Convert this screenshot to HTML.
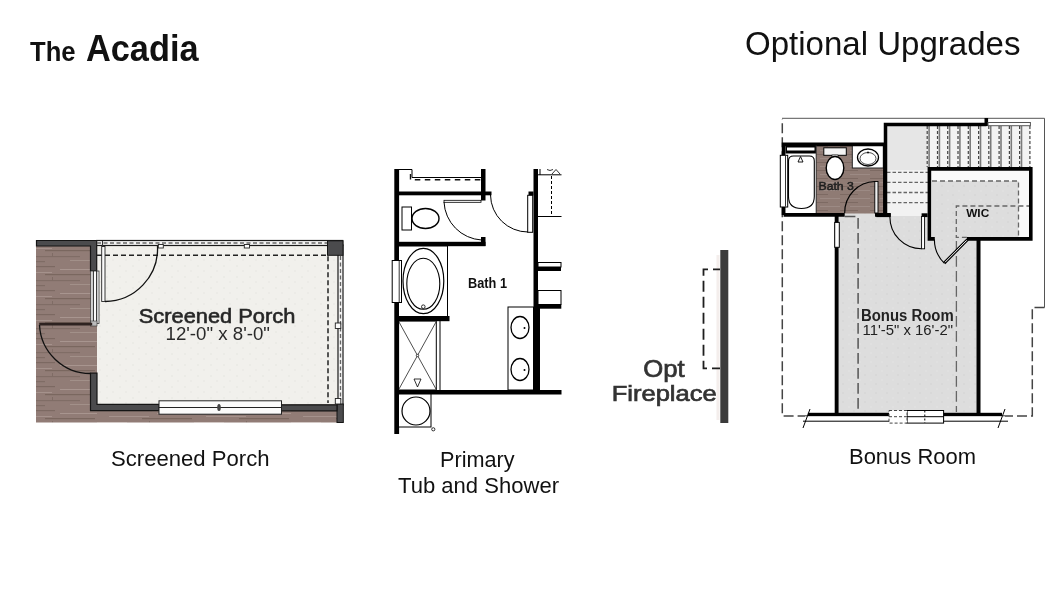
<!DOCTYPE html>
<html><head><meta charset="utf-8">
<style>
html,body{margin:0;padding:0;background:#fff;width:1060px;height:600px;overflow:hidden}
svg{display:block;font-family:"Liberation Sans",sans-serif;will-change:transform}
</style></head><body>
<svg width="1060" height="600" viewBox="0 0 1060 600">
<defs>
  <pattern id="wood" width="97" height="24" patternUnits="userSpaceOnUse">
    <rect width="97" height="24" fill="#917c76"/>
    <rect x="0" y="2" width="55" height="1.2" fill="#7c6962"/>
    <rect x="60" y="5" width="37" height="1" fill="#a8958f"/>
    <rect x="12" y="8" width="40" height="1" fill="#a5928c"/>
    <rect x="45" y="10" width="50" height="1.2" fill="#7a675f"/>
    <rect x="0" y="14" width="30" height="1" fill="#a7948e"/>
    <rect x="35" y="16" width="45" height="1.2" fill="#806d66"/>
    <rect x="70" y="20" width="27" height="1" fill="#a29089"/>
    <rect x="5" y="21" width="40" height="1.2" fill="#7f6c65"/>
    <rect x="52" y="13" width="1" height="4" fill="#7f6c65"/>
  </pattern>
  <pattern id="speck" width="13" height="11" patternUnits="userSpaceOnUse">
    <rect width="13" height="11" fill="#f1f0ec"/>
    <circle cx="3" cy="2" r="0.7" fill="#e2e2dd"/>
    <circle cx="9" cy="7" r="0.7" fill="#e4e4df"/>
  </pattern>
  <pattern id="gspeck" width="11" height="9" patternUnits="userSpaceOnUse">
    <rect width="11" height="9" fill="#dddddd"/>
    <circle cx="2" cy="2" r="0.7" fill="#e6e6e6"/>
    <circle cx="7" cy="6" r="0.7" fill="#cfcfcf"/>
  </pattern>
  <pattern id="wood3" width="30" height="8" patternUnits="userSpaceOnUse">
    <rect width="30" height="8" fill="#8f7b74"/>
    <rect x="0" y="2" width="18" height="1" fill="#7d6a63"/>
    <rect x="10" y="6" width="20" height="1" fill="#9c8a84"/>
  </pattern>
</defs>
<!-- headings -->
<text x="30" y="60.8" font-weight="bold" font-size="27.5" textLength="45.5" lengthAdjust="spacingAndGlyphs" fill="#111">The</text>
<text x="86" y="61" font-weight="bold" font-size="36" textLength="112.5" lengthAdjust="spacingAndGlyphs" fill="#111">Acadia</text>
<text x="745" y="54.5" font-size="33" textLength="275.5" lengthAdjust="spacingAndGlyphs" fill="#111">Optional Upgrades</text>

<!-- captions -->
<text x="111" y="465.5" font-size="22" textLength="158.5" lengthAdjust="spacingAndGlyphs" fill="#111">Screened Porch</text>
<text x="440" y="467" font-size="22" textLength="74.5" lengthAdjust="spacingAndGlyphs" fill="#111">Primary</text>
<text x="398" y="492.5" font-size="22" textLength="161" lengthAdjust="spacingAndGlyphs" fill="#111">Tub and Shower</text>
<text x="849" y="464" font-size="22" textLength="127" lengthAdjust="spacingAndGlyphs" fill="#111">Bonus Room</text>

<!-- ============ PORCH ============ -->
<g id="porch">
  <rect x="36" y="240" width="307" height="182.5" fill="url(#wood)"/>
  <rect x="97" y="245.5" width="241" height="159" fill="url(#speck)"/>
  <!-- top-left wall -->
  <path d="M36.5 240.5 H96.7 V271 H90.5 V246 H36.5 Z" fill="#4b4b4d" stroke="#151515" stroke-width="1.2"/>
  <!-- top screen edge -->
  <rect x="96.7" y="240.5" width="246" height="5" fill="#f4f4f4" stroke="#1a1a1a" stroke-width="1.2"/>
  <path d="M97 243 H328" stroke="#666" stroke-width="1.3" stroke-dasharray="4 2.5"/>
  <line x1="102.5" y1="241" x2="102.5" y2="256" stroke="#333" stroke-width="1"/>
  <!-- right screen edge -->
  <rect x="338" y="245" width="5" height="160" fill="#f4f4f4" stroke="#1a1a1a" stroke-width="1.2"/>
  <path d="M340.5 256 V400" stroke="#666" stroke-width="1.3" stroke-dasharray="4 2.5"/>
  <rect x="327.5" y="240.8" width="15.5" height="14.5" fill="#4b4b4d" stroke="#151515" stroke-width="1"/>
  <rect x="337" y="404" width="6.3" height="18.5" fill="#4b4b4d" stroke="#151515" stroke-width="1"/>
  <!-- dashed -->
  <path d="M97 255.3 H328 V403" fill="none" stroke="#222" stroke-width="1.5" stroke-dasharray="5 3"/>
  <!-- left window -->
  <rect x="90.8" y="271" width="8.2" height="52.5" fill="#fafafa" stroke="#333" stroke-width="0.8"/>
  <line x1="93.3" y1="271" x2="93.3" y2="323" stroke="#111" stroke-width="1"/>
  <line x1="96.7" y1="271" x2="96.7" y2="323" stroke="#111" stroke-width="1"/>
  <!-- left stub -->
  <rect x="90.5" y="321" width="6.5" height="5" fill="#bbb" stroke="#333" stroke-width="0.6"/>
  <!-- lower walls -->
  <path d="M90.5 373.2 H97 V404.3 H159.2 V410.7 H90.5 Z" fill="#4b4b4d" stroke="#151515" stroke-width="1.2"/>
  <path d="M281 404.8 H337 V410.8 H281 Z" fill="#4b4b4d" stroke="#151515" stroke-width="1.2"/>
  <!-- bottom window -->
  <rect x="159" y="400.8" width="122.5" height="13.4" fill="#fafafa" stroke="#222" stroke-width="1"/>
  <line x1="159" y1="407.5" x2="281.5" y2="407.5" stroke="#222" stroke-width="1"/>
  <ellipse cx="219" cy="407.5" rx="1.8" ry="3.5" fill="#444"/>
  <!-- top door -->
  <rect x="101.7" y="246.5" width="3.3" height="55" fill="#fafafa" stroke="#222" stroke-width="0.9"/>
  <path d="M105 301.5 A53 53 0 0 0 157.5 246" fill="none" stroke="#111" stroke-width="1.3"/>
  <!-- left door -->
  <rect x="39.2" y="322.7" width="53" height="2.8" fill="#2e2220"/>
  <path d="M39.5 325 A51 51 0 0 0 90.5 373.5" fill="none" stroke="#111" stroke-width="1.3"/>
  <!-- posts -->
  <rect x="158.3" y="244.5" width="5" height="3.5" fill="#fafafa" stroke="#222" stroke-width="0.9"/>
  <rect x="244.3" y="244.5" width="5.2" height="3.5" fill="#fafafa" stroke="#222" stroke-width="0.9"/>
  <rect x="335.3" y="323" width="5.5" height="5.5" fill="#fafafa" stroke="#222" stroke-width="0.9"/>
  <rect x="335.3" y="398.5" width="5.5" height="5.5" fill="#fafafa" stroke="#222" stroke-width="0.9"/>
  <text x="138.8" y="322.8" font-size="20.5" textLength="156.5" lengthAdjust="spacingAndGlyphs" fill="#262626" stroke="#262626" stroke-width="0.6">Screened Porch</text>
  <text x="165.5" y="340" font-size="18.5" textLength="104.5" lengthAdjust="spacingAndGlyphs" fill="#2a2a2a">12'-0" x 8'-0"</text>
</g>

<!-- ============ BATH 1 ============ -->
<g id="bath" fill="#000">
  <rect x="394.3" y="169" width="4.8" height="265"/>
  <rect x="481" y="169" width="4.5" height="31.5"/>
  <rect x="398" y="191.5" width="93.5" height="3.8"/>
  <rect x="398" y="241.8" width="87.5" height="4.4"/>
  <rect x="481" y="237" width="4.5" height="9"/>
  <rect x="533.5" y="169" width="4.5" height="225"/>
  <rect x="528.5" y="191.5" width="5" height="3.8"/>
  <rect x="398" y="316" width="51.5" height="5.2"/>
  <rect x="398" y="390" width="163.5" height="4.5"/>
  <path d="M399 169.5 H412 V177.5 H481" fill="none" stroke="#000" stroke-width="1"/>
  <path d="M410.5 174 V179.7 H481" fill="none" stroke="#111" stroke-width="1.4" stroke-dasharray="5.5 4.5"/>
  <!-- toilet -->
  <rect x="402" y="207" width="9.5" height="23" fill="#fff" stroke="#000" stroke-width="1"/>
  <ellipse cx="425.5" cy="218.5" rx="13.5" ry="10" fill="#fff" stroke="#000" stroke-width="1.4"/>
  <!-- wc door -->
  <rect x="444" y="200.3" width="37" height="2" fill="#fff" stroke="#000" stroke-width="0.8"/>
  <path d="M444 202 A40 40 0 0 0 481.5 240" fill="none" stroke="#000" stroke-width="1"/>
  <!-- bath door -->
  <rect x="527.7" y="195.3" width="5" height="37" fill="#fff" stroke="#000" stroke-width="1"/>
  <path d="M490.5 195 A37.5 37.5 0 0 0 528 232" fill="none" stroke="#000" stroke-width="1"/>
  <!-- right side stuff -->
  <path d="M538 174.8 H561.5 M538 216.5 H561.5 M540 169 V175" fill="none" stroke="#000" stroke-width="1"/>
  <path d="M551.5 176 V216" fill="none" stroke="#000" stroke-width="1" stroke-dasharray="3 2"/>
  <path d="M547 169.5 Q550 171.5 553 169.5 M552 174 L556 169.5 L560 174" fill="none" stroke="#000" stroke-width="0.8"/>
  <!-- tub -->
  <rect x="398.5" y="246" width="49" height="70.5" fill="#fff" stroke="#000" stroke-width="1"/>
  <ellipse cx="423.4" cy="281" rx="20.4" ry="32.7" fill="none" stroke="#000" stroke-width="1.2"/>
  <ellipse cx="423.3" cy="283.8" rx="16.5" ry="25.5" fill="none" stroke="#000" stroke-width="1.1"/>
  <circle cx="423.3" cy="306.7" r="1.8" fill="none" stroke="#000" stroke-width="0.8"/>
  <rect x="392.2" y="260.5" width="9.3" height="42" fill="#fff" stroke="#000" stroke-width="1"/>
  <line x1="399.2" y1="261" x2="399.2" y2="302" stroke="#000" stroke-width="0.8"/>
  <!-- shower -->
  <rect x="398.5" y="321" width="37.8" height="69" fill="none" stroke="#000" stroke-width="1"/>
  <line x1="440" y1="321" x2="440" y2="390" stroke="#000" stroke-width="1"/>
  <path d="M399 322 L436 389 M436 322 L399 389" stroke="#000" stroke-width="0.7"/>
  <circle cx="417.5" cy="355.5" r="1.2" fill="#fff" stroke="#000" stroke-width="0.7"/>
  <path d="M414 379 H421 L417.5 387 Z" fill="#fff" stroke="#000" stroke-width="0.8"/>
  <!-- vanity -->
  <rect x="508" y="307" width="25.5" height="83" fill="#fff" stroke="#000" stroke-width="1"/>
  <ellipse cx="520" cy="327.5" rx="9" ry="11" fill="#fff" stroke="#000" stroke-width="1.3"/>
  <ellipse cx="520" cy="369.5" rx="9" ry="11" fill="#fff" stroke="#000" stroke-width="1.3"/>
  <circle cx="524.5" cy="328" r="1" fill="#000"/>
  <circle cx="524.5" cy="370" r="1" fill="#000"/>
  <!-- shelves right -->
  <rect x="538" y="290.5" width="23" height="14" fill="#fff" stroke="#000" stroke-width="1"/>
  <rect x="538" y="304.3" width="23.3" height="4.4"/>
  <rect x="537" y="304.3" width="3" height="89"/>
  <rect x="538" y="262.5" width="23" height="4.5" fill="#fff" stroke="#000" stroke-width="1"/>
  <rect x="538" y="267" width="23" height="4"/>
  <!-- washer -->
  <rect x="398.5" y="394" width="32.5" height="33" fill="#fff" stroke="#000" stroke-width="1"/>
  <circle cx="416" cy="411" r="14" fill="none" stroke="#000" stroke-width="1.2"/>
  <circle cx="433.3" cy="429.3" r="1.6" fill="none" stroke="#000" stroke-width="0.8"/>
  <text x="468" y="287.5" font-weight="bold" font-size="15" textLength="39" lengthAdjust="spacingAndGlyphs" fill="#111">Bath 1</text>
</g>

<!-- ============ FIREPLACE ============ -->
<g id="fire">
  <rect x="716.5" y="255" width="3" height="165" fill="#f4eeec"/>
  <rect x="720.3" y="250" width="8" height="173" fill="#3b3b3b"/>
  <path d="M720 269.3 H703.5 V368.3 H720" fill="none" stroke="#1e1e1e" stroke-width="1.8" stroke-dasharray="11 5" stroke-dashoffset="4"/>
  <text x="643.3" y="376.7" font-size="24" textLength="41.4" lengthAdjust="spacingAndGlyphs" fill="#333" stroke="#333" stroke-width="0.7">Opt</text>
  <text x="611.7" y="400.7" font-size="22.5" textLength="105" lengthAdjust="spacingAndGlyphs" fill="#333" stroke="#333" stroke-width="0.7">Fireplace</text>
</g>

<!-- ============ BONUS ============ -->
<g id="bonus">
  <!-- outer lines -->
  <path d="M782 118.3 H1044.5 V307.5" fill="none" stroke="#555" stroke-width="1"/>
  <path d="M1044.5 307.5 H1032.3 V416 H1002" fill="none" stroke="#444" stroke-width="1.5" stroke-dasharray="10 4"/>
  <path d="M782.3 119 V416 H808" fill="none" stroke="#444" stroke-width="1.5" stroke-dasharray="10 4" stroke-dashoffset="-4.3"/>
  <!-- bonus room interior -->
  <rect x="838.6" y="212.5" width="138" height="200.5" fill="url(#gspeck)"/>
  <!-- stair area -->
  <rect x="887" y="126" width="41" height="44" fill="#e6e6e6"/>
  <rect x="887" y="170" width="41" height="46" fill="#f2f2f2"/>
  <g stroke="#666" stroke-width="1.3" stroke-dasharray="3.5 2">
    <path d="M887 172.3 H928 M887 182.4 H928 M887 192.5 H928 M887 202.6 H928"/>
  </g>
  <rect x="928" y="126" width="102.5" height="41.5" fill="#f3f3f3"/>
  <path d="M929.1 126 V167 M939.4 126 V167 M949.6 126 V167 M959.9 126 V167 M970.2 126 V167 M980.5 126 V167 M990.7 126 V167 M1001.0 126 V167 M1011.3 126 V167 M1021.5 126 V167" stroke="#7a7a7a" stroke-width="1.6"/>
  <path d="M927.2 126 V167 M937.5 126 V167 M947.7 126 V167 M958.0 126 V167 M968.3 126 V167 M978.6 126 V167 M988.8 126 V167 M999.1 126 V167 M1009.4 126 V167 M1019.6 126 V167 M1029.9 126 V167" stroke="#444" stroke-width="1.2" stroke-dasharray="3 2"/>
  <!-- WIC -->
  <rect x="929.5" y="169" width="101.3" height="68" fill="#fafafa"/>
  <rect x="932" y="181" width="86.5" height="57" fill="url(#gspeck)"/>
  <path d="M929.4 240.5 V168.9 H1030.8 V240.5 M927.6 238.9 H934.8 M966.9 238.9 H1032.6" fill="none" stroke="#000" stroke-width="3.6"/>
  <path d="M932 181 H1018.5 V238 M966.9 237.3 H956.3 V206 H1029" fill="none" stroke="#666" stroke-width="1.3" stroke-dasharray="5 3"/>
  <text x="966.2" y="216.7" font-weight="bold" font-size="11" textLength="23" lengthAdjust="spacingAndGlyphs" fill="#111">WIC</text>
  <!-- stair walls -->
  <path d="M885.5 215 V124.5 H986.5" fill="none" stroke="#000" stroke-width="3.5"/>
  <rect x="984.5" y="118" width="3.6" height="8" fill="#000"/>
  <rect x="988" y="122.5" width="42.4" height="3.2" fill="#fff" stroke="#555" stroke-width="1"/>
  <!-- bath 3 -->
  <rect x="816" y="145.5" width="68" height="68" fill="url(#wood3)"/>
  <rect x="785.5" y="145.5" width="30.5" height="68" fill="#fff"/>
  <rect x="852.3" y="145.5" width="31" height="22.5" fill="#fff" stroke="#222" stroke-width="1"/>
  <path d="M783.6 214.9 V144.4 H884.9 V215 M783.6 214.9 H844.7 M875 214.9 H890.7" fill="none" stroke="#000" stroke-width="3.7"/>
  <rect x="785.5" y="145.5" width="30.5" height="8" fill="#000"/>
  <rect x="787" y="147.5" width="27.5" height="3" fill="#fff"/>
  <path d="M793.5 156 H809.3 Q814.3 156 814.3 161 V196.5 Q814.3 208.5 801.4 208.5 Q788.5 208.5 788.5 196.5 V161 Q788.5 156 793.5 156 Z" fill="#fff" stroke="#000" stroke-width="1.1"/>
  <path d="M798 162 L800.5 156.5 L803 162 Z" fill="#fff" stroke="#000" stroke-width="0.9"/>
  <line x1="816.2" y1="145.5" x2="816.2" y2="213" stroke="#333" stroke-width="1"/>
  <rect x="780.3" y="155.3" width="7.4" height="51.7" fill="#fff" stroke="#000" stroke-width="1"/>
  <line x1="785.5" y1="156" x2="785.5" y2="206.5" stroke="#000" stroke-width="0.8"/>
  <rect x="823.8" y="147.8" width="22.5" height="7.5" fill="#f4f4f4" stroke="#000" stroke-width="1"/>
  <rect x="832" y="155" width="6" height="2" fill="#fff" stroke="#000" stroke-width="0.6"/>
  <ellipse cx="835" cy="168" rx="8.8" ry="11.5" fill="#fff" stroke="#000" stroke-width="1.4"/>
  <ellipse cx="868" cy="157.5" rx="10.5" ry="8.5" fill="#fff" stroke="#000" stroke-width="1.3"/>
  <ellipse cx="868" cy="158.5" rx="8" ry="6" fill="none" stroke="#000" stroke-width="0.7"/>
  <circle cx="868" cy="152.5" r="0.9" fill="#000"/>
  <text x="818.5" y="189.8" font-size="11" textLength="35.3" lengthAdjust="spacingAndGlyphs" fill="#1e1e1e" stroke="#1e1e1e" stroke-width="0.45">Bath 3</text>
  <rect x="874.8" y="181.5" width="3.2" height="31.5" fill="#eee" stroke="#000" stroke-width="0.9"/>
  <path d="M875 181.5 A31 31 0 0 0 844.7 213" fill="none" stroke="#000" stroke-width="1.1"/>
  <!-- bonus walls -->
  <rect x="834.7" y="216" width="3.9" height="200" fill="#000"/>
  <rect x="976.5" y="238" width="4" height="176" fill="#000"/>
  <rect x="834.7" y="222.4" width="4.6" height="24.9" fill="#fff" stroke="#000" stroke-width="1"/>
  <path d="M844.7 216.5 H858.1 V412" fill="none" stroke="#555" stroke-width="1.5" stroke-dasharray="10.7 4.3"/>
  <path d="M956.4 241 V412" stroke="#666" stroke-width="1.3" stroke-dasharray="10.7 4.3"/>
  <rect x="807.9" y="412.8" width="194.1" height="3.6" fill="#000"/>
  <rect x="805" y="416.4" width="200" height="4.6" fill="#fff"/>
  <line x1="803" y1="421.2" x2="1008" y2="421.2" stroke="#000" stroke-width="1"/>
  <path d="M810 409 L803 428 M1005 409 L998 428" stroke="#000" stroke-width="1"/>
  <!-- bottom window -->
  <rect x="907" y="410.5" width="36.6" height="12.6" fill="#fff" stroke="#000" stroke-width="1"/>
  <line x1="907" y1="416.7" x2="943.6" y2="416.7" stroke="#000" stroke-width="1"/>
  <path d="M924.8 410.5 V423" stroke="#000" stroke-width="1" stroke-dasharray="2 2"/>
  <rect x="889" y="410.5" width="18" height="12.6" fill="#fff" stroke="#444" stroke-width="1" stroke-dasharray="3 2"/>
  <path d="M889 416.7 H907" stroke="#444" stroke-width="1" stroke-dasharray="3 2"/>
  <!-- doors -->
  <rect x="876.3" y="213.3" width="14.4" height="3.8" fill="#000"/>
  <rect x="921.6" y="213.3" width="6" height="3.8" fill="#000"/>
  <rect x="921.6" y="216.5" width="3" height="32.3" fill="#fff" stroke="#000" stroke-width="0.9"/>
  <path d="M889.9 217 A31.7 31.7 0 0 0 921.6 248.8" fill="none" stroke="#000" stroke-width="1.1"/>
  <path d="M967.6 239.5 L944.2 263.1" stroke="#000" stroke-width="3"/>
  <path d="M966.8 240.3 L945 262.3" stroke="#fff" stroke-width="1"/>
  <path d="M934.4 239.5 A33 33 0 0 0 944.2 263.1" fill="none" stroke="#000" stroke-width="1.1"/>
  <text x="861" y="320.8" font-weight="bold" font-size="15.8" textLength="92.7" lengthAdjust="spacingAndGlyphs" fill="#222">Bonus Room</text>
  <text x="862.5" y="335" font-size="14" textLength="90.5" lengthAdjust="spacingAndGlyphs" fill="#222">11'-5" x 16'-2"</text>
</g>
</svg>
</body></html>
